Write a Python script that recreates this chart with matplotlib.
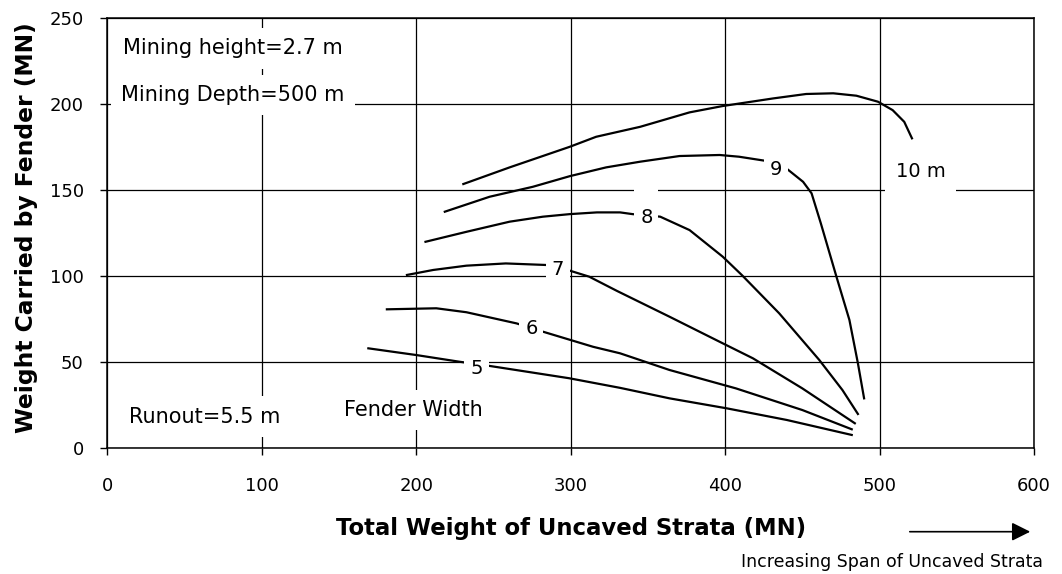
import matplotlib
matplotlib.use("Agg")
import matplotlib.pyplot as plt
from matplotlib.patches import Rectangle

# fender width curves
w5_x = [169, 200, 228, 246.5, 299, 332, 364, 401, 440, 482]
w5_y = [58.0, 54.1, 50.2, 47.9, 40.6, 35.0, 28.9, 23.1, 16.3, 7.6]

w6_x = [181, 213, 232.5, 265, 282, 314.5, 332, 364, 407, 450, 482]
w6_y = [80.7, 81.3, 79.0, 72.5, 67.7, 58.9, 55.1, 45.4, 34.7, 22.1, 10.9]

w7_x = [194, 211, 232.5, 258, 284, 298, 312, 330, 364, 396.5, 418, 450, 484]
w7_y = [100.7, 103.6, 106.1, 107.4, 106.5, 103.6, 99.7, 91.4, 76.4, 61.8, 52.2, 34.7, 14.4]

w8_x = [206, 232.5, 260.5, 282, 299.5, 317, 332, 340, 358, 377, 398.5, 411, 435, 461, 476, 486]
w8_y = [120.0, 125.8, 131.7, 134.6, 136.1, 137.1, 137.1, 136.1, 134.6, 126.8, 111.3, 100.5, 78.4, 51.2, 33.7, 19.8]

w9_x = [218.5, 247.5, 275.5, 299.5, 323, 345, 370.5, 396.5, 409, 425.5, 440.5, 450.5, 456, 462, 472, 480.5, 486, 490]
w9_y = [137.5, 146.2, 152.0, 158.2, 163.3, 166.6, 169.9, 170.5, 169.5, 167.2, 162.1, 154.9, 148.2, 130.7, 100, 74.5, 49.3, 28.9]

w10_x = [230.5, 260.5, 299.5, 316.5, 345, 377, 398.5, 431, 452.5, 470, 485, 499, 508.5, 516, 521]
w10_y = [153.6, 163.3, 175.3, 181.1, 186.9, 195.3, 199.0, 203.4, 206.0, 206.4, 205.0, 201.5, 196.6, 189.8, 180.2]

curves = [(w5_x, w5_y), (w6_x, w6_y), (w7_x, w7_y),
          (w8_x, w8_y), (w9_x, w9_y), (w10_x, w10_y)]

# curve labels and where they sit
curve_labels = ["5", "6", "7", "8", "9", "10 m"]
label_x = [239, 274.6, 291.8, 349, 433, 526.5]
label_y = [46.4, 69.6, 103.6, 134.2, 162.1, 160.8]

x_ticks = [0, 100, 200, 300, 400, 500, 600]
y_ticks = [0, 50, 100, 150, 200, 250]

fig = plt.figure(figsize=(10.62, 5.74), dpi=100)
ax = fig.add_axes([0.1011, 0.2195, 0.8725, 0.7485])

ax.set_xlim(0, 600)
ax.set_ylim(0, 250)
ax.set_xticks(x_ticks)
ax.set_yticks(y_ticks)
ax.set_axisbelow(True)
ax.grid(True, color="black", lw=0.9)
for s in ax.spines.values():
    s.set_linewidth(1.1)
ax.tick_params(direction="out", length=5, width=1, labelsize=13, colors="black")
ax.tick_params(axis="x", pad=16)
ax.tick_params(axis="y", pad=12)

for cx, cy in curves:
    ax.plot(cx, cy, color="black", lw=1.6, zorder=2)

white = dict(boxstyle="square,pad=0.3", fc="white", ec="none")
for lab, lx, ly in zip(curve_labels, label_x, label_y):
    pad_box = dict(white, boxstyle="square,pad=0.55") if lab == "10 m" else white
    ax.text(lx, ly, lab, fontsize=14, ha="center", va="center", bbox=pad_box, zorder=3)
# the box behind the "8" also clears the 150 gridline
ax.add_patch(Rectangle((341, 134), 15.5, 18, fc="white", ec="none", zorder=1.5))

note_box = dict(boxstyle="square,pad=0.5", fc="white", ec="none")
ax.text(10, 232.5, "Mining height=2.7 m", fontsize=15, va="center", bbox=note_box, zorder=3)
ax.text(9, 205.4, "Mining Depth=500 m", fontsize=15, va="center", bbox=note_box, zorder=3)
ax.text(14, 18.2, "Runout=5.5 m", fontsize=15, va="center", bbox=note_box, zorder=3)
ax.text(153, 22.1, "Fender Width", fontsize=15, va="center", bbox=note_box, zorder=3)

ax.set_xlabel("Total Weight of Uncaved Strata (MN)", fontsize=16.4, fontweight="bold")
ax.xaxis.set_label_coords(0.5008, -0.160)
ax.set_ylabel("Weight Carried by Fender (MN)", fontsize=16.8, fontweight="bold")
ax.yaxis.set_label_coords(-0.075, 0.512)

ax.annotate("", xy=(1033 / 1062, 1 - 531.7 / 574), xytext=(907 / 1062, 1 - 531.7 / 574),
            xycoords="figure fraction", textcoords="figure fraction",
            arrowprops=dict(arrowstyle="-|>", mutation_scale=28, lw=1.2, color="black"))
fig.text(891.7 / 1062, 1 - 561.7 / 574, "Increasing Span of Uncaved Strata",
         fontsize=12.5, ha="center", va="center")

fig.savefig("out.png", dpi=100)
